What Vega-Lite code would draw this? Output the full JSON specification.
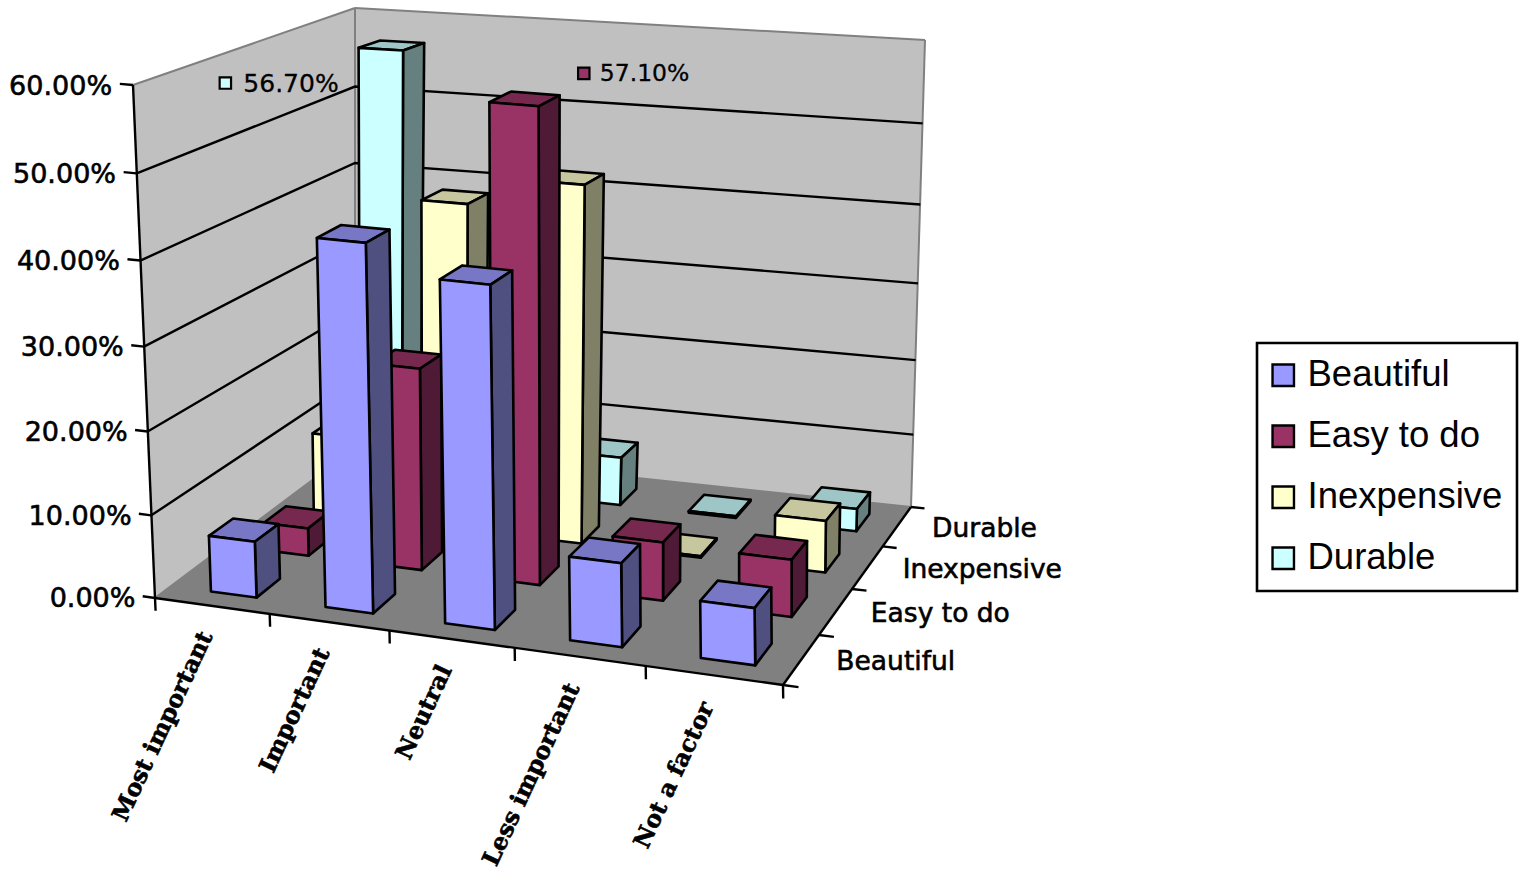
{
  "$schema": "https://vega.github.io/schema/vega-lite/v6.json",
  "width": 1521,
  "height": 875,
  "padding": 0,
  "autosize": {"type": "none"},
  "background": "white",
  "config": {"view": {"stroke": null}, "legend": {"strokeWidth": 2.6}},
  "datasets": {
    "responses": [
      {"importance": "Most important", "series": "Durable", "value": 56.7},
      {"importance": "Important", "series": "Durable", "value": 33},
      {"importance": "Neutral", "series": "Durable", "value": 6.5},
      {"importance": "Less important", "series": "Durable", "value": 0.2},
      {"importance": "Not a factor", "series": "Durable", "value": 3},
      {"importance": "Most important", "series": "Inexpensive", "value": 10.5},
      {"importance": "Important", "series": "Inexpensive", "value": 41.5},
      {"importance": "Neutral", "series": "Inexpensive", "value": 45},
      {"importance": "Less important", "series": "Inexpensive", "value": 0.2},
      {"importance": "Not a factor", "series": "Inexpensive", "value": 6.6},
      {"importance": "Most important", "series": "Easy to do", "value": 3.5},
      {"importance": "Important", "series": "Easy to do", "value": 25},
      {"importance": "Neutral", "series": "Easy to do", "value": 57.1},
      {"importance": "Less important", "series": "Easy to do", "value": 7.2},
      {"importance": "Not a factor", "series": "Easy to do", "value": 7},
      {"importance": "Most important", "series": "Beautiful", "value": 6.8},
      {"importance": "Important", "series": "Beautiful", "value": 43.5},
      {"importance": "Neutral", "series": "Beautiful", "value": 40.2},
      {"importance": "Less important", "series": "Beautiful", "value": 9.9},
      {"importance": "Not a factor", "series": "Beautiful", "value": 6.7}
    ],
    "frame": [
      {"paint": "left wall", "corner": [0, 1, 2, 3], "u": [0, 0, 0, 0], "v": [0, 1, 1, 0], "t": [0, 0, 1, 1]},
      {"paint": "back wall", "corner": [0, 1, 2, 3], "u": [0, 1, 1, 0], "v": [1, 1, 1, 1], "t": [0, 0, 1, 1]},
      {"paint": "floor", "corner": [0, 1, 2, 3], "u": [0, 1, 1, 0], "v": [0, 0, 1, 1], "t": [0, 0, 0, 0]}
    ],
    "outline": [
      {"line": "left wall top", "u": [0, 0], "v": [0, 1], "t": [1, 1]},
      {"line": "back wall top", "u": [0, 1], "v": [1, 1], "t": [1, 1]},
      {"line": "back left corner", "u": [0, 0], "v": [1, 1], "t": [0, 1]},
      {"line": "back right corner", "u": [1, 1], "v": [1, 1], "t": [0, 1]},
      {"line": "floor left", "u": [0, 0], "v": [0, 1], "t": [0, 0]},
      {"line": "floor back", "u": [0, 1], "v": [1, 1], "t": [0, 0]}
    ],
    "rules": [
      {"line": "grid 10", "u": [0, 0, 1], "v": [0, 1, 1], "t": [0.16667, 0.16667, 0.16667]},
      {"line": "grid 20", "u": [0, 0, 1], "v": [0, 1, 1], "t": [0.33333, 0.33333, 0.33333]},
      {"line": "grid 30", "u": [0, 0, 1], "v": [0, 1, 1], "t": [0.5, 0.5, 0.5]},
      {"line": "grid 40", "u": [0, 0, 1], "v": [0, 1, 1], "t": [0.66667, 0.66667, 0.66667]},
      {"line": "grid 50", "u": [0, 0, 1], "v": [0, 1, 1], "t": [0.83333, 0.83333, 0.83333]},
      {"line": "value axis", "u": [0, 0], "v": [0, 0], "t": [0, 1]},
      {"line": "category axis", "u": [0, 1], "v": [0, 0], "t": [0, 0]},
      {"line": "series axis", "u": [1, 1], "v": [0, 1], "t": [0, 0]},
      {"line": "value tick 0", "u": [-0.022, 0], "v": [0, 0], "t": [0, 0]},
      {"line": "value tick 10", "u": [-0.022, 0], "v": [0, 0], "t": [0.16667, 0.16667]},
      {"line": "value tick 20", "u": [-0.022, 0], "v": [0, 0], "t": [0.33333, 0.33333]},
      {"line": "value tick 30", "u": [-0.022, 0], "v": [0, 0], "t": [0.5, 0.5]},
      {"line": "value tick 40", "u": [-0.022, 0], "v": [0, 0], "t": [0.66667, 0.66667]},
      {"line": "value tick 50", "u": [-0.022, 0], "v": [0, 0], "t": [0.83333, 0.83333]},
      {"line": "value tick 60", "u": [-0.022, 0], "v": [0, 0], "t": [1, 1]},
      {"line": "category tick 0", "u": [0, 0], "v": [0, 0], "t": [0, -0.026]},
      {"line": "category tick 1", "u": [0.2, 0.2], "v": [0, 0], "t": [0, -0.026]},
      {"line": "category tick 2", "u": [0.4, 0.4], "v": [0, 0], "t": [0, -0.026]},
      {"line": "category tick 3", "u": [0.6, 0.6], "v": [0, 0], "t": [0, -0.026]},
      {"line": "category tick 4", "u": [0.8, 0.8], "v": [0, 0], "t": [0, -0.026]},
      {"line": "category tick 5", "u": [1, 1], "v": [0, 0], "t": [0, -0.026]},
      {"line": "series tick 0", "u": [1, 1.022], "v": [0, 0], "t": [0, 0]},
      {"line": "series tick 1", "u": [1, 1.022], "v": [0.25, 0.25], "t": [0, 0]},
      {"line": "series tick 2", "u": [1, 1.022], "v": [0.5, 0.5], "t": [0, 0]},
      {"line": "series tick 3", "u": [1, 1.022], "v": [0.75, 0.75], "t": [0, 0]},
      {"line": "series tick 4", "u": [1, 1.022], "v": [1, 1], "t": [0, 0]}
    ],
    "labels": [
      {"group": "value", "text": "0.00%", "u": -0.035, "v": 0, "t": 0},
      {"group": "value", "text": "10.00%", "u": -0.035, "v": 0, "t": 0.16667},
      {"group": "value", "text": "20.00%", "u": -0.035, "v": 0, "t": 0.33333},
      {"group": "value", "text": "30.00%", "u": -0.035, "v": 0, "t": 0.5},
      {"group": "value", "text": "40.00%", "u": -0.035, "v": 0, "t": 0.66667},
      {"group": "value", "text": "50.00%", "u": -0.035, "v": 0, "t": 0.83333},
      {"group": "value", "text": "60.00%", "u": -0.035, "v": 0, "t": 1},
      {"group": "category", "text": "Most important", "u": 0.1, "v": 0, "t": -0.055},
      {"group": "category", "text": "Important", "u": 0.3, "v": 0, "t": -0.055},
      {"group": "category", "text": "Neutral", "u": 0.5, "v": 0, "t": -0.055},
      {"group": "category", "text": "Less important", "u": 0.7, "v": 0, "t": -0.055},
      {"group": "category", "text": "Not a factor", "u": 0.9, "v": 0, "t": -0.055},
      {"group": "series", "text": "Beautiful", "u": 1, "v": 0.125, "t": 0},
      {"group": "series", "text": "Easy to do", "u": 1, "v": 0.375, "t": 0},
      {"group": "series", "text": "Inexpensive", "u": 1, "v": 0.625, "t": 0},
      {"group": "series", "text": "Durable", "u": 1, "v": 0.875, "t": 0}
    ]
  },
  "encoding": {
    "x": {"field": "sx", "type": "quantitative", "axis": null, "scale": {"domain": [0, 1521], "nice": false, "zero": false}},
    "y": {"field": "sy", "type": "quantitative", "axis": null, "scale": {"domain": [875, 0], "nice": false, "zero": false}}
  },
  "layer": [
    {
      "data": {"name": "frame"},
      "transform": [
        {"flatten": ["corner", "u", "v", "t"]},
        {"calculate": "(544.79*datum.u+254.66*datum.v+155)/(1-0.10627*datum.u+0.15396*datum.v)+datum.t*(-22+14*datum.u+22*datum.v+24*datum.u*(1-datum.u))", "as": "sx"},
        {"calculate": "(14.2*datum.u-81.03*datum.v+598)/(1-0.10627*datum.u+0.15396*datum.v)-(datum.t-(0.04+0.045*datum.v)*datum.t*(1-datum.t))*(513+27*datum.u-73*datum.v)", "as": "sy"}
      ],
      "mark": {"type": "line", "filled": true, "interpolate": "linear-closed", "stroke": "black", "strokeWidth": 0},
      "encoding": {
        "order": {"field": "corner", "type": "quantitative"},
        "fill": {"field": "paint", "type": "nominal"}
      }
    },
    {
      "data": {"name": "outline"},
      "transform": [
        {"flatten": ["u", "v", "t"]},
        {"calculate": "(544.79*datum.u+254.66*datum.v+155)/(1-0.10627*datum.u+0.15396*datum.v)+datum.t*(-22+14*datum.u+22*datum.v+24*datum.u*(1-datum.u))", "as": "sx"},
        {"calculate": "(14.2*datum.u-81.03*datum.v+598)/(1-0.10627*datum.u+0.15396*datum.v)-(datum.t-(0.04+0.045*datum.v)*datum.t*(1-datum.t))*(513+27*datum.u-73*datum.v)", "as": "sy"}
      ],
      "mark": {"type": "line", "color": "#808080", "strokeWidth": 2},
      "encoding": {
        "detail": {"field": "line", "type": "nominal"}
      }
    },
    {
      "data": {"name": "rules"},
      "transform": [
        {"flatten": ["u", "v", "t"]},
        {"calculate": "(544.79*datum.u+254.66*datum.v+155)/(1-0.10627*datum.u+0.15396*datum.v)+datum.t*(-22+14*datum.u+22*datum.v+24*datum.u*(1-datum.u))", "as": "sx"},
        {"calculate": "(14.2*datum.u-81.03*datum.v+598)/(1-0.10627*datum.u+0.15396*datum.v)-(datum.t-(0.04+0.045*datum.v)*datum.t*(1-datum.t))*(513+27*datum.u-73*datum.v)", "as": "sy"}
      ],
      "mark": {"type": "line", "color": "black", "strokeWidth": 2.4},
      "encoding": {
        "detail": {"field": "line", "type": "nominal"}
      }
    },
    {
      "data": {"name": "responses"},
      "transform": [
        {"calculate": "(indexof(['Most important','Important','Neutral','Less important','Not a factor'],datum.importance)+0.5)/5", "as": "uc"},
        {"calculate": "(indexof(['Beautiful','Easy to do','Inexpensive','Durable'],datum.series)+0.5)/4", "as": "vc"},
        {"calculate": "['top','side','front']", "as": "face"},
        {"flatten": ["face"]},
        {"calculate": "[0,1,2,3]", "as": "corner"},
        {"calculate": "datum.face==='side'?[1,1,1,1]:[-1,1,1,-1]", "as": "us"},
        {"calculate": "datum.face==='front'?[-1,-1,-1,-1]:datum.face==='side'?[-1,1,1,-1]:[-1,-1,1,1]", "as": "vs"},
        {"calculate": "datum.face==='top'?[1,1,1,1]:[0,0,1,1]", "as": "hs"},
        {"flatten": ["corner", "us", "vs", "hs"]},
        {"calculate": "datum.uc+0.012-0.008*datum.uc+0.04*datum.us", "as": "u"},
        {"calculate": "datum.vc+0.055*datum.vs", "as": "v"},
        {"calculate": "datum.hs*datum.value/60", "as": "t"},
        {"calculate": "datum.series+' '+datum.face", "as": "paint"},
        {"calculate": "datum.importance+' '+datum.series+' '+datum.face", "as": "faceId"},
        {"calculate": "(544.79*datum.u+254.66*datum.v+155)/(1-0.10627*datum.u+0.15396*datum.v)+datum.t*(-22+14*datum.u+22*datum.v+24*datum.u*(1-datum.u))", "as": "sx"},
        {"calculate": "(14.2*datum.u-81.03*datum.v+598)/(1-0.10627*datum.u+0.15396*datum.v)-(datum.t-(0.04+0.045*datum.v)*datum.t*(1-datum.t))*(513+27*datum.u-73*datum.v)", "as": "sy"}
      ],
      "mark": {"type": "line", "filled": true, "interpolate": "linear-closed", "stroke": "black", "strokeWidth": 2.6, "strokeJoin": "round"},
      "encoding": {
        "order": {"field": "corner", "type": "quantitative"},
        "detail": {"field": "faceId", "type": "nominal"},
        "fill": {
          "field": "paint",
          "type": "nominal",
          "scale": {
            "domain": [
              "left wall", "back wall", "floor",
              "Beautiful front", "Easy to do front", "Inexpensive front", "Durable front",
              "Beautiful top", "Easy to do top", "Inexpensive top", "Durable top",
              "Beautiful side", "Easy to do side", "Inexpensive side", "Durable side"
            ],
            "range": [
              "#c0c0c0", "#c0c0c0", "#808080",
              "#9999ff", "#993366", "#ffffcc", "#ccffff",
              "#7777c6", "#77284f", "#c6c69f", "#9fc6c6",
              "#4f4f80", "#4f1a35", "#808066", "#668080"
            ]
          },
          "legend": {
            "values": ["Beautiful front", "Easy to do front", "Inexpensive front", "Durable front"],
            "labelExpr": "replace(datum.label,' front','')",
            "title": null,
            "orient": "none",
            "legendX": 1257,
            "legendY": 343,
            "padding": 14,
            "fillColor": "white",
            "strokeColor": "black",
            "symbolType": "square",
            "symbolSize": 460,
            "symbolOffset": -6,
            "symbolStrokeWidth": 2.4,
            "labelFont": "Liberation Sans",
            "labelFontSize": 36.5,
            "labelColor": "black",
            "labelOffset": 6,
            "labelLimit": 0,
            "rowPadding": 24,
            "encode": {"symbols": {"update": {"stroke": {"value": "black"}, "strokeWidth": {"value": 2.4}}}}
          }
        }
      }
    },
    {
      "data": {"name": "responses"},
      "transform": [
        {"filter": "datum.series==='Durable'&&datum.importance==='Most important'"},
        {"calculate": "0.1", "as": "u"},
        {"calculate": "0.875", "as": "v"},
        {"calculate": "datum.value/60", "as": "t"},
        {"calculate": "datum.series+' front'", "as": "paint"},
        {"calculate": "format(datum.value/100,'.2%')", "as": "caption"},
        {"calculate": "(544.79*datum.u+254.66*datum.v+155)/(1-0.10627*datum.u+0.15396*datum.v)+datum.t*(-22+14*datum.u+22*datum.v+24*datum.u*(1-datum.u))", "as": "sx"},
        {"calculate": "(14.2*datum.u-81.03*datum.v+598)/(1-0.10627*datum.u+0.15396*datum.v)-(datum.t-(0.04+0.045*datum.v)*datum.t*(1-datum.t))*(513+27*datum.u-73*datum.v)", "as": "sy"}
      ],
      "layer": [
        {
          "mark": {"type": "square", "size": 130, "filled": true, "stroke": "black", "strokeWidth": 2.2, "opacity": 1, "xOffset": -160, "yOffset": 38},
          "encoding": {"fill": {"field": "paint", "type": "nominal"}}
        },
        {
          "mark": {"type": "text", "align": "left", "baseline": "middle", "font": "DejaVu Sans", "fontSize": 25, "color": "black", "stroke": "black", "strokeWidth": 0.3, "xOffset": -142, "yOffset": 39},
          "encoding": {"text": {"field": "caption", "type": "nominal"}}
        }
      ]
    },
    {
      "data": {"name": "responses"},
      "transform": [
        {"filter": "datum.series==='Easy to do'&&datum.importance==='Neutral'"},
        {"calculate": "0.5", "as": "u"},
        {"calculate": "0.375", "as": "v"},
        {"calculate": "datum.value/60", "as": "t"},
        {"calculate": "datum.series+' front'", "as": "paint"},
        {"calculate": "format(datum.value/100,'.2%')", "as": "caption"},
        {"calculate": "(544.79*datum.u+254.66*datum.v+155)/(1-0.10627*datum.u+0.15396*datum.v)+datum.t*(-22+14*datum.u+22*datum.v+24*datum.u*(1-datum.u))", "as": "sx"},
        {"calculate": "(14.2*datum.u-81.03*datum.v+598)/(1-0.10627*datum.u+0.15396*datum.v)-(datum.t-(0.04+0.045*datum.v)*datum.t*(1-datum.t))*(513+27*datum.u-73*datum.v)", "as": "sy"}
      ],
      "layer": [
        {
          "mark": {"type": "square", "size": 130, "filled": true, "stroke": "black", "strokeWidth": 2.2, "opacity": 1, "xOffset": 64, "yOffset": -25},
          "encoding": {"fill": {"field": "paint", "type": "nominal"}}
        },
        {
          "mark": {"type": "text", "align": "left", "baseline": "middle", "font": "DejaVu Sans", "fontSize": 23.5, "color": "black", "stroke": "black", "strokeWidth": 0.3, "xOffset": 80, "yOffset": -24},
          "encoding": {"text": {"field": "caption", "type": "nominal"}}
        }
      ]
    },
    {
      "data": {"name": "labels"},
      "transform": [
        {"calculate": "(544.79*datum.u+254.66*datum.v+155)/(1-0.10627*datum.u+0.15396*datum.v)+datum.t*(-22+14*datum.u+22*datum.v+24*datum.u*(1-datum.u))", "as": "sx"},
        {"calculate": "(14.2*datum.u-81.03*datum.v+598)/(1-0.10627*datum.u+0.15396*datum.v)-(datum.t-(0.04+0.045*datum.v)*datum.t*(1-datum.t))*(513+27*datum.u-73*datum.v)", "as": "sy"}
      ],
      "layer": [
        {
          "transform": [{"filter": "datum.group==='value'"}],
          "mark": {"type": "text", "align": "right", "baseline": "middle", "font": "DejaVu Sans", "fontSize": 27, "color": "black", "stroke": "black", "strokeWidth": 0.6, "yOffset": 4},
          "encoding": {"text": {"field": "text", "type": "nominal"}}
        },
        {
          "transform": [{"filter": "datum.group==='category'"}],
          "mark": {"type": "text", "align": "right", "baseline": "middle", "angle": 295, "font": "DejaVu Serif", "fontWeight": "bold", "fontSize": 23.5, "color": "black", "stroke": "black", "strokeWidth": 0.6, "xOffset": -6},
          "encoding": {"text": {"field": "text", "type": "nominal"}}
        },
        {
          "transform": [{"filter": "datum.group==='series'"}],
          "mark": {"type": "text", "align": "left", "baseline": "middle", "font": "DejaVu Sans", "fontSize": 26.5, "color": "black", "stroke": "black", "strokeWidth": 0.6, "dx": 35, "yOffset": 3},
          "encoding": {"text": {"field": "text", "type": "nominal"}}
        }
      ]
    }
  ]
}
